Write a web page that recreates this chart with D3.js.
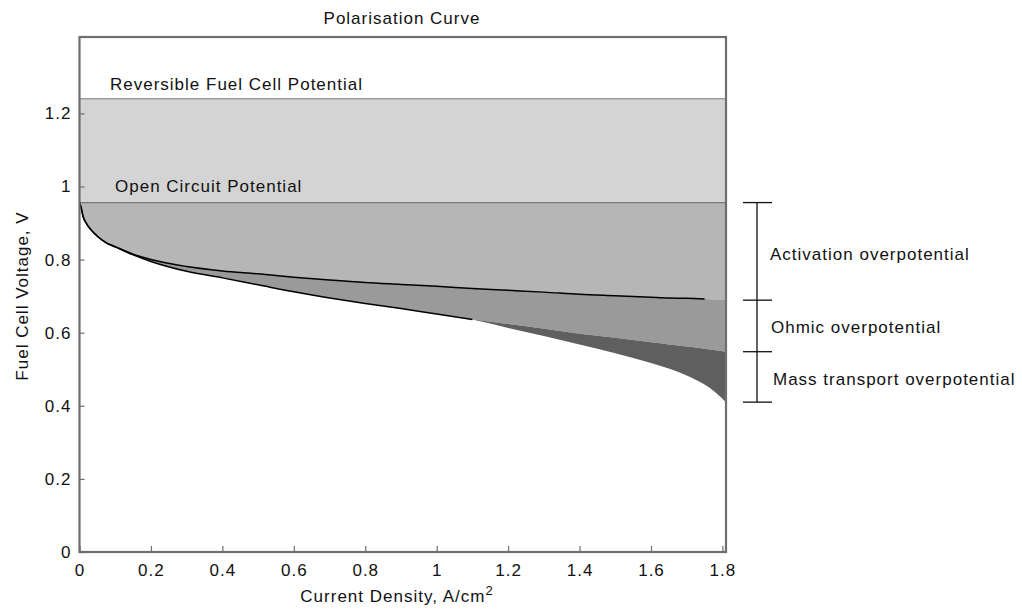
<!DOCTYPE html>
<html>
<head>
<meta charset="utf-8">
<script src="https://cdn.jsdelivr.net/npm/d3@7"></script>
<style>
  html, body { margin: 0; padding: 0; background: #ffffff; }
  svg text { font-family: "Liberation Sans", Arial, sans-serif; font-size: 17px; letter-spacing: 1px; fill: #111; }
</style>
</head>
<body>
<svg id="chart" width="1022" height="615"></svg>
<script>
// ---- data ----
const currentDensity = [0, 0.005, 0.01, 0.02, 0.03, 0.05, 0.075, 0.1, 0.15, 0.2, 0.3, 0.4, 0.5, 0.6, 0.7, 0.8, 0.9, 1.0, 1.1, 1.2, 1.3, 1.4, 1.5, 1.6, 1.65, 1.7, 1.75, 1.78, 1.81];
const activationV = [0.956, 0.94, 0.918, 0.898, 0.884, 0.864, 0.846, 0.835, 0.815, 0.800, 0.781, 0.769, 0.761, 0.752, 0.744, 0.737, 0.732, 0.727, 0.721, 0.716, 0.711, 0.705, 0.701, 0.697, 0.695, 0.694, 0.692, 0.691, 0.689];
const ohmicV = [0.956, 0.94, 0.918, 0.898, 0.884, 0.864, 0.846, 0.835, 0.813, 0.795, 0.768, 0.750, 0.731, 0.712, 0.695, 0.680, 0.666, 0.651, 0.637, 0.624, 0.611, 0.597, 0.586, 0.574, 0.568, 0.562, 0.556, 0.552, 0.548];
const totalV = [0.956, 0.94, 0.918, 0.898, 0.884, 0.864, 0.846, 0.835, 0.813, 0.795, 0.768, 0.750, 0.731, 0.712, 0.695, 0.680, 0.666, 0.651, 0.636, 0.613, 0.591, 0.568, 0.544, 0.517, 0.502, 0.483, 0.458, 0.437, 0.410];
const reversibleV = 1.24;
const openCircuitV = 0.956;
const activationLineEnd = 1.75;  // black activation line drawn up to this current density
const totalLineEnd = 1.12;       // black cell-voltage line drawn up to this current density
const xTicks = [0, 0.2, 0.4, 0.6, 0.8, 1, 1.2, 1.4, 1.6, 1.8];
const yTicks = [0, 0.2, 0.4, 0.6, 0.8, 1, 1.2];
const overpotentialLabels = ["Activation overpotential", "Ohmic overpotential", "Mass transport overpotential"];

const rows = currentDensity.map((c, k) => ({ i: c, act: activationV[k], ohm: ohmicV[k], tot: totalV[k] }));

// ---- layout ----
const svg = d3.select("#chart");
const pLeft = 79.5, pRight = 726, pTop = 37, pBottom = 552;
const x = d3.scaleLinear().domain([0, 1.81]).range([pLeft, pRight]);
const y = d3.scaleLinear().domain([0, 1.409]).range([pBottom, pTop]);

const colLight = "#d4d4d4", colAct = "#b6b6b6", colOhm = "#9a9a9a", colMass = "#5f5f5f";
const curve = d3.curveMonotoneX;

// light band between reversible and open circuit potential
svg.append("rect")
  .attr("x", x(0)).attr("width", x(1.81) - x(0))
  .attr("y", y(reversibleV)).attr("height", y(openCircuitV) - y(reversibleV))
  .attr("fill", colLight);

// activation region
svg.append("path").datum(rows)
  .attr("fill", colAct)
  .attr("d", d3.area().curve(curve).x(d => x(d.i)).y0(() => y(openCircuitV)).y1(d => y(d.act)));
// ohmic region
svg.append("path").datum(rows)
  .attr("fill", colOhm)
  .attr("d", d3.area().curve(curve).x(d => x(d.i)).y0(d => y(d.act)).y1(d => y(d.ohm)));
// mass transport region
svg.append("path").datum(rows)
  .attr("fill", colMass)
  .attr("d", d3.area().curve(curve).x(d => x(d.i)).y0(d => y(d.ohm)).y1(d => y(d.tot)));

// horizontal potential lines
[reversibleV, openCircuitV].forEach(v => {
  svg.append("line")
    .attr("x1", x(0)).attr("x2", x(1.81))
    .attr("y1", y(v)).attr("y2", y(v))
    .attr("stroke", "#7a7a7a").attr("stroke-width", 1.2);
});

// black curve lines
svg.append("path").datum(rows.filter(d => d.i <= activationLineEnd))
  .attr("fill", "none").attr("stroke", "#000").attr("stroke-width", 1.5)
  .attr("d", d3.line().curve(curve).x(d => x(d.i)).y(d => y(d.act)));
svg.append("path").datum(rows.filter(d => d.i <= totalLineEnd))
  .attr("fill", "none").attr("stroke", "#000").attr("stroke-width", 1.5)
  .attr("d", d3.line().curve(curve).x(d => x(d.i)).y(d => y(d.tot)));

// axes
const axisColor = "#6e6e6e";
const xAxis = svg.append("g").attr("transform", `translate(0,${pBottom})`)
  .call(d3.axisBottom(x).tickValues(xTicks).tickSize(-6).tickPadding(12).tickFormat(d3.format("")));
const yAxis = svg.append("g").attr("transform", `translate(${pLeft},0)`)
  .call(d3.axisLeft(y).tickValues(yTicks).tickSize(-5).tickPadding(8).tickFormat(d3.format("")));
[xAxis, yAxis].forEach(g => {
  g.select(".domain").remove();
  g.selectAll(".tick line").attr("stroke", axisColor).attr("stroke-width", 1.2);
  g.selectAll(".tick text").style("font-size", "17px").attr("fill", "#111")
    .style("font-family", "'Liberation Sans', Arial, sans-serif");
});
xAxis.selectAll(".tick text").attr("dy", "0.71em");

// plot frame
svg.append("rect")
  .attr("x", pLeft).attr("y", pTop).attr("width", pRight - pLeft).attr("height", pBottom - pTop)
  .attr("fill", "none").attr("stroke", axisColor).attr("stroke-width", 2.2);

// title & axis labels
svg.append("text").attr("x", 402).attr("y", 24).attr("text-anchor", "middle").text("Polarisation Curve");
const xl = svg.append("text").attr("x", 397).attr("y", 602).attr("text-anchor", "middle");
xl.append("tspan").text("Current Density, A/cm");
xl.append("tspan").attr("dy", -7).style("font-size", "13px").text("2");
svg.append("text")
  .attr("transform", "translate(28,296) rotate(-90)")
  .attr("text-anchor", "middle").text("Fuel Cell Voltage, V");

// in-plot labels
svg.append("text").attr("x", 110).attr("y", y(reversibleV) - 9).text("Reversible Fuel Cell Potential");
svg.append("text").attr("x", 115).attr("y", y(openCircuitV) - 11).text("Open Circuit Potential");

// overpotential bracket
const last = rows[rows.length - 1];
const bracketVals = [openCircuitV, last.act, last.ohm, last.tot];
const bx = pRight + 31;
svg.append("line").attr("x1", bx).attr("x2", bx)
  .attr("y1", y(bracketVals[0])).attr("y2", y(bracketVals[3]))
  .attr("stroke", "#111").attr("stroke-width", 1.3);
bracketVals.forEach(v => {
  svg.append("line").attr("x1", bx - 14).attr("x2", bx + 15)
    .attr("y1", y(v)).attr("y2", y(v))
    .attr("stroke", "#111").attr("stroke-width", 1.3);
});
const labelY = [260, 333, 385];
const labelX = [770, 771, 773];
overpotentialLabels.forEach((t, k) => {
  svg.append("text").attr("x", labelX[k]).attr("y", labelY[k]).text(t);
});
</script>
</body>
</html>
